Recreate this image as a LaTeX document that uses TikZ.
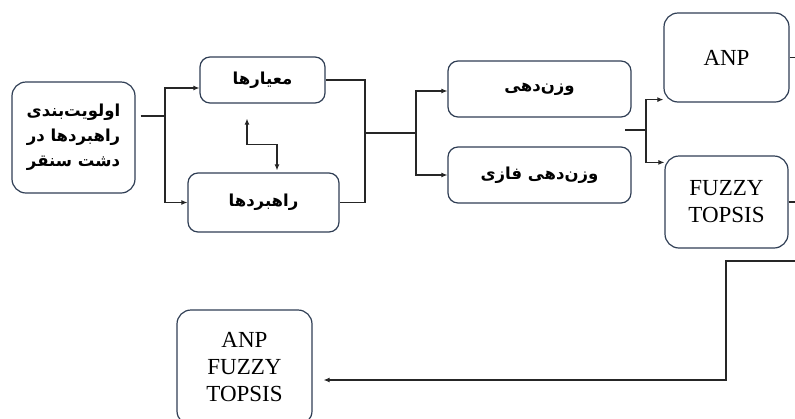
\documentclass[tikz,border=0pt]{standalone}
\usepackage{fontspec}
\setmainfont{Liberation Serif}
\newfontfamily\arabicfont[Script=Arabic]{DejaVu Sans}
\TeXXeTstate=1
\usetikzlibrary{arrows.meta}
\definecolor{boxline}{RGB}{47,62,84}
\newcommand{\fa}[1]{\beginR #1\endR}
\tikzset{
  arr/.style={-{Latex[length=6pt,width=5pt]}},
  fabox/.style={font=\arabicfont\bfseries\fontsize{16.5}{25}\selectfont},
  enbox/.style={font=\fontsize{23}{27}\selectfont}
}
\begin{document}
\begin{tikzpicture}[x=1pt,y=-1pt,line width=1.1pt]
      \useasboundingbox (0,0) rectangle (795,418);
      \begin{scope}[every node/.style={draw=boxline,line width=1.2pt,rounded corners=10pt,align=center,inner sep=0pt}]
        \node[fabox,minimum width=123pt,minimum height=111pt,rounded corners=14pt] (main) at (73.5,137.5) {\fa{اولویت‌بندی}\\\fa{راهبردها در}\\\fa{دشت سنقر}};
        \node[fabox,minimum width=125pt,minimum height=46pt] (crit) at (262.5,80) {\fa{معیارها}};
        \node[fabox,minimum width=151pt,minimum height=59pt] (strat) at (263.5,202.5) {\fa{راهبردها}};
        \node[fabox,minimum width=183pt,minimum height=56pt] (wgt) at (539.5,89) {\fa{وزن‌دهی}};
        \node[fabox,minimum width=183pt,minimum height=56pt] (fwgt) at (539.5,175) {\fa{وزن‌دهی فازی}};
        \node[enbox,minimum width=125pt,minimum height=89pt,rounded corners=14pt] (anp) at (726.5,57.5) {ANP};
        \node[enbox,minimum width=123pt,minimum height=92pt,rounded corners=14pt] (ftop) at (726.5,202) {FUZZY\\TOPSIS};
        \node[enbox,minimum width=135pt,minimum height=115pt,rounded corners=14pt] (final) at (244.5,367.5) {ANP\\FUZZY\\TOPSIS};
      \end{scope}
      \coordinate (s1) at (165,116);
      \coordinate (j2) at (365,133);
      \coordinate (s2) at (416,133);
      \coordinate (j3) at (625,130);
      \coordinate (s3) at (646,130);
      \coordinate (e4) at (800,261);
      \coordinate (j4) at (726,380);
      \begin{scope}[every path/.style={draw=black!85}]
        \draw ([xshift=5pt]main.east |- s1) -- (s1);
        \draw[arr] (s1) |- ([yshift=-8pt]crit.west);
        \draw[arr] (s1) |- (strat.west);
        \draw[{Latex[length=6pt,width=5pt]}-{Latex[length=6pt,width=5pt]}] ([xshift=-15.5pt,yshift=-15pt]crit.south) -- ++(0,26) -| ([xshift=13.5pt,yshift=2pt]strat.north);
        \draw (crit.east) -| (j2) |- (strat.east);
        \draw (j2) -- (s2);
        \draw[arr] (s2) |- ([yshift=-2pt]wgt.west);
        \draw[arr] (s2) |- (fwgt.west);
        \draw (j3) -- (s3);
        \draw[arr] (s3) |- ([yshift=3pt]anp.south west);
        \draw[arr] (s3) |- ([yshift=-7pt]ftop.north west);
        \draw (anp.east) -- ++(10,0);
        \draw (ftop.east) -- ++(10,0);
        \draw[arr] (e4) -| (j4) -- ([xshift=11pt]final.east |- j4);
      \end{scope}
    \end{tikzpicture}
\end{document}
